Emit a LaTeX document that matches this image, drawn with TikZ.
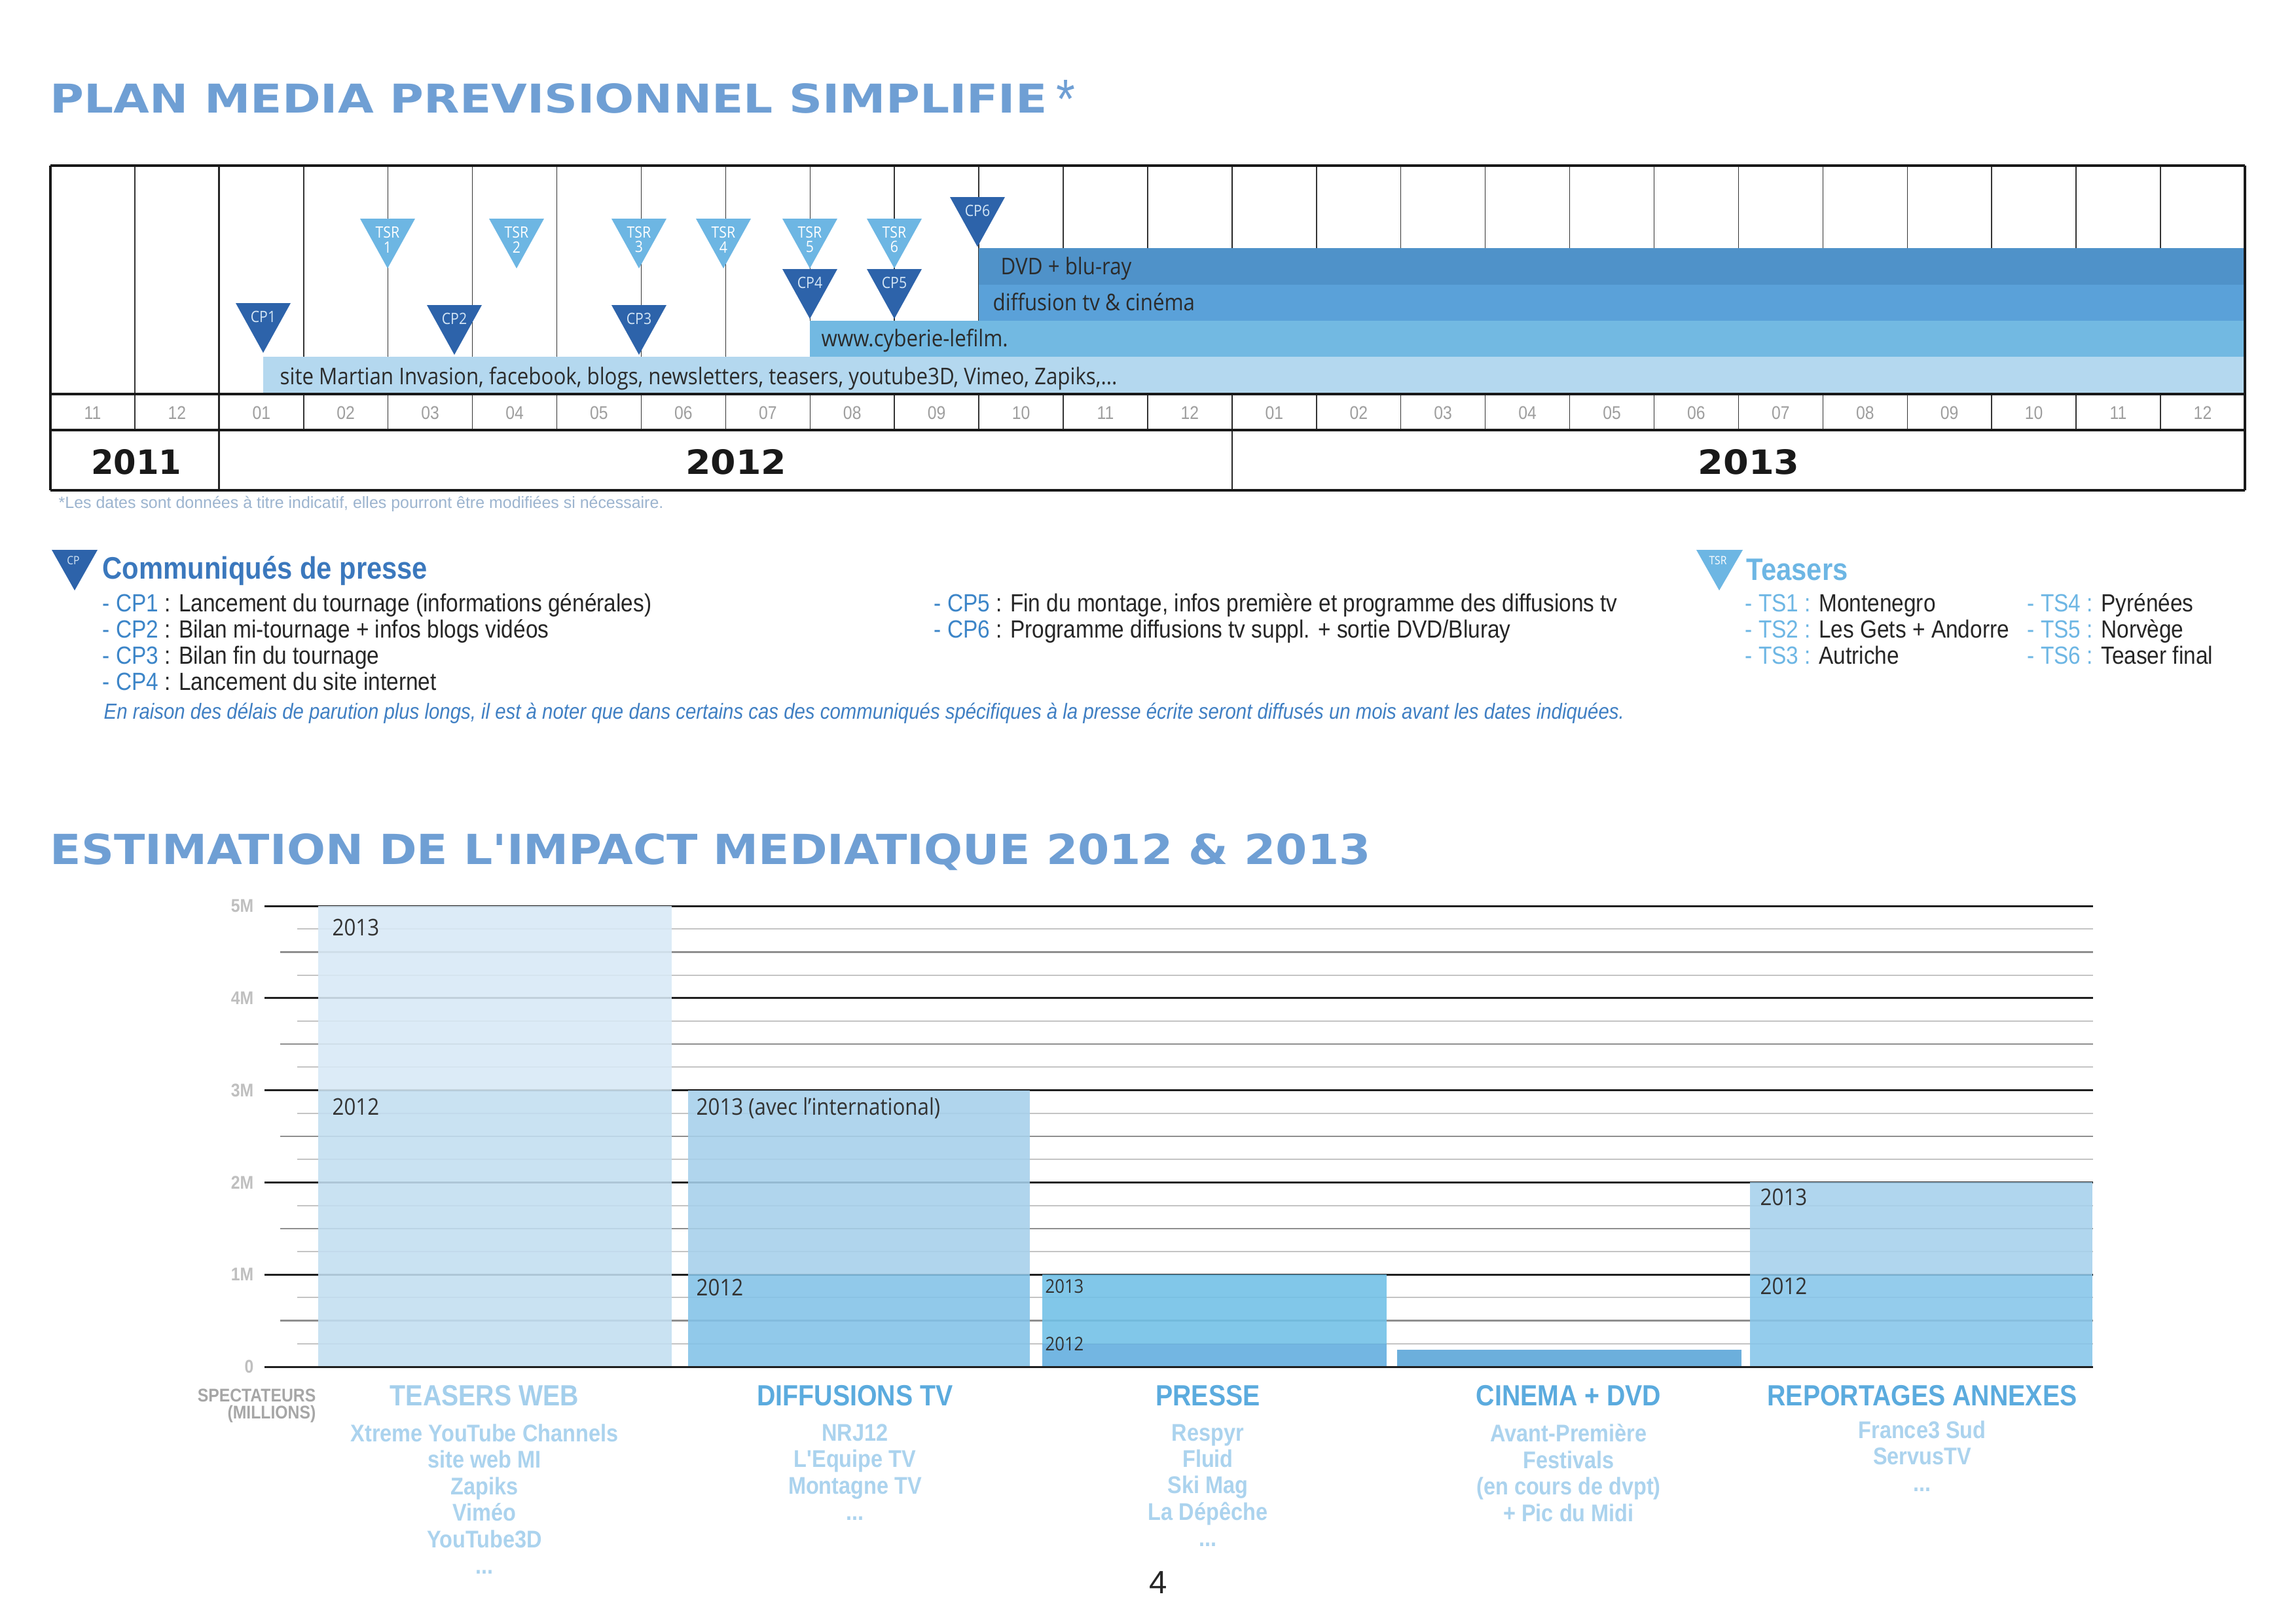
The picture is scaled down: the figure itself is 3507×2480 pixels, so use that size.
\documentclass[tikz,border=0pt]{standalone}
\usepackage{fontspec}
\usepackage{graphicx}
\setmainfont{Liberation Sans}
\newfontfamily\hv{Liberation Sans}[FakeStretch=0.88]
\newfontfamily\cnd{Open Sans}[FakeStretch=0.89]
\newfontfamily\dvs{DejaVu Sans}
\definecolor{cpDark}{HTML}{2D63AA}
\definecolor{tsLight}{HTML}{6DB6E3}
\definecolor{cDvd}{HTML}{4F92C9}
\definecolor{cDiff}{HTML}{5AA1D9}
\definecolor{cCyb}{HTML}{72B9E2}
\definecolor{cSite}{HTML}{B4D8EF}
\definecolor{titleBlue}{HTML}{6F9FD4}
\definecolor{cpHead}{HTML}{3B78BD}
\definecolor{cpBlue}{HTML}{3C85C8}
\definecolor{tsBlue}{HTML}{6DB6E4}
\definecolor{gridHalf}{HTML}{8F8F8F}
\definecolor{gridQ}{HTML}{C4C4C4}
\definecolor{bTeA}{HTML}{D8E9F6}
\definecolor{bTeB}{HTML}{C2DEF1}
\definecolor{bDiA}{HTML}{A6D0EB}
\definecolor{bDiB}{HTML}{82C2E8}
\definecolor{bPrA}{HTML}{70C0E7}
\definecolor{bPrB}{HTML}{60ACDE}
\definecolor{bCin}{HTML}{58A4D8}
\definecolor{bReA}{HTML}{A6D1EC}
\definecolor{bReB}{HTML}{86C5EA}
\definecolor{catBlue}{HTML}{5BABDE}
\definecolor{catPale}{HTML}{A4CFEC}
\definecolor{subPale}{HTML}{ABD3EE}
\definecolor{footBlue}{HTML}{9CB4CF}
\definecolor{italBlue}{HTML}{3F7FC3}
\definecolor{txtDark}{HTML}{2B2B2B}
\definecolor{cpLab}{HTML}{D3E5F5}
\newcommand\cptri[4]{%
  \fill[cpDark] ({#2-42},#3) -- ({#2+42},#3) -- (#2,{#3+76}) -- cycle;
  \node[trilab,text=cpLab] (#1) at (#2,{#3+21}) {#4};}
\newcommand\tstri[4]{%
  \fill[tsLight] ({#2-42},#3) -- ({#2+42},#3) -- (#2,{#3+76}) -- cycle;
  \node[trilab,align=center,text=white] (#1) at (#2,{#3+32}) {TSR\\#4};}
\begin{document}
\begin{tikzpicture}[x=0.1mm,y=-0.1mm,
  thinl/.style={line width=0.15mm,draw=black!80},
  midl/.style={line width=0.28mm,draw=black!85},
  heavyl/.style={line width=0.4mm,draw=black!90},
  trilab/.style={font=\cnd\fontsize{6.8}{6.5}\selectfont,inner sep=0pt},
  mlab/.style={font=\hv\fontsize{8}{9}\selectfont,text=black!38,inner sep=0pt},
  yearlab/.style={inner sep=0pt,text=black!90},
  barlab/.style={font=\cnd\fontsize{10}{11}\selectfont,text=txtDark,inner sep=0pt,anchor=base west},
  legtxt/.style={font=\hv\fontsize{10.8}{12}\selectfont,text=black!85,inner sep=0pt,anchor=base west},
  chartlab/.style={font=\cnd\fontsize{10}{11}\selectfont,text=black!80,inner sep=0pt,anchor=base west},
  ylab/.style={font=\hv\bfseries\fontsize{8}{9}\selectfont,text=black!25,inner sep=0pt,anchor=east},
  cathead/.style={font=\hv\bfseries\fontsize{12.7}{15}\selectfont,text=catBlue,inner sep=0pt},
  subitems/.style={font=\hv\bfseries\fontsize{10.5}{11.5}\selectfont,text=subPale,inner sep=0pt,align=center,anchor=north},
  majl/.style={line width=0.3mm,draw=black!88},
  halfl/.style={line width=0.25mm,draw=gridHalf},
  ql/.style={line width=0.2mm,draw=gridQ}
]
\useasboundingbox (0,0) rectangle (3507,2480);
\fill[white] (0,0) rectangle (3507,2480);

% ---------- Title 1
\node[anchor=base west,inner sep=0pt,text=titleBlue] (title1) at (76,172)
  {\resizebox{152.3mm}{4.5mm}{\dvs\bfseries PLAN MEDIA PREVISIONNEL SIMPLIFIE}};
\node[anchor=base,inner sep=0pt,text=titleBlue,font=\hv\fontsize{24}{24}\selectfont] (star) at (1628,180) {*};

% ---------- Timeline grid (top area)
\foreach \k in {0,...,26}
  \draw[thinl] ({77+\k*128.92},253) -- ({77+\k*128.92},602);
\foreach \k in {2,14}
  \draw[midl] ({77+\k*128.92},253) -- ({77+\k*128.92},602);

% bars
\fill[cSite] (402,545) rectangle (3429,602);
\fill[cCyb] (1237,490) rectangle (3429,545);
\fill[cDiff] (1495,435) rectangle (3429,490);
\fill[cDvd] (1495,379) rectangle (3429,435);
\node[barlab] (bDvd) at (1528,419) {DVD + blu-ray};
\node[barlab] (bDiff) at (1516,474) {diffusion tv \& cinéma};
\node[barlab] (bCyb) at (1254,529) {www.cyberie-lefilm.};
\node[barlab] (bSite) at (427,587) {site Martian Invasion, facebook, blogs, newsletters, teasers, youtube3D, Vimeo, Zapiks,...};

% triangles
\tstri{tsr1}{592}{334}{1}
\tstri{tsr2}{789}{334}{2}
\tstri{tsr3}{976}{334}{3}
\tstri{tsr4}{1105}{334}{4}
\tstri{tsr5}{1237}{334}{5}
\tstri{tsr6}{1366}{334}{6}
\cptri{cp1}{402}{463}{CP1}
\cptri{cp2}{694}{466}{CP2}
\cptri{cp3}{976}{466}{CP3}
\cptri{cp4}{1237}{411}{CP4}
\cptri{cp5}{1366}{411}{CP5}
\cptri{cp6}{1493}{301}{CP6}

% month row and year row
\foreach \k in {0,...,26}
  \draw[thinl] ({77+\k*128.92},602) -- ({77+\k*128.92},657);
\foreach \k in {2,14}
  \draw[midl] ({77+\k*128.92},602) -- ({77+\k*128.92},749);
\draw[heavyl] (77,253) -- (3429,253);
\draw[heavyl] (77,602) -- (3429,602);
\draw[heavyl] (77,657) -- (3429,657);
\draw[heavyl] (77,749) -- (3429,749);
\draw[heavyl] (77,253) -- (77,749);
\draw[heavyl] (3429,253) -- (3429,749);

\foreach \m [count=\i from 0] in {11,12,01,02,03,04,05,06,07,08,09,10,11,12,01,02,03,04,05,06,07,08,09,10,11,12}
  \node[mlab] (m\i) at ({77+(\i+0.5)*128.92},631) {\m};

\node[yearlab] (y2011) at (208,706) {\resizebox{13.8mm}{3.8mm}{\dvs\bfseries 2011}};
\node[yearlab] (y2012) at (1124,706) {\resizebox{15.4mm}{3.8mm}{\dvs\bfseries 2012}};
\node[yearlab] (y2013) at (2671,706) {\resizebox{15.5mm}{3.8mm}{\dvs\bfseries 2013}};

\node[anchor=base west,inner sep=0pt,text=footBlue,font=\fontsize{7.1}{8}\selectfont] (foot) at (89,776)
  {*Les dates sont données à titre indicatif, elles pourront être modifiées si nécessaire.};

% ---------- Legend: communiqués
\fill[cpDark] (79,840) -- (149,840) -- (114,902) -- cycle;
\node[trilab,text=cpLab,font=\cnd\fontsize{5}{5}\selectfont] (lgcp) at (112,856) {CP};
\node[anchor=base west,inner sep=0pt,text=cpHead,font=\hv\bfseries\fontsize{13.5}{15}\selectfont] (cphead) at (156,884) {Communiqués de presse};
\node[legtxt] (l1) at (156,934) {\textcolor{cpBlue}{- CP1} : Lancement du tournage (informations générales)};
\node[legtxt] (l2) at (156,974) {\textcolor{cpBlue}{- CP2} : Bilan mi-tournage + infos blogs vidéos};
\node[legtxt] (l3) at (156,1014) {\textcolor{cpBlue}{- CP3} : Bilan fin du tournage};
\node[legtxt] (l4) at (156,1054) {\textcolor{cpBlue}{- CP4} : Lancement du site internet};
\node[legtxt] (l5) at (1426,934) {\textcolor{cpBlue}{- CP5} : Fin du montage, infos première et programme des diffusions tv};
\node[legtxt] (l6) at (1426,974) {\textcolor{cpBlue}{- CP6} : Programme diffusions tv suppl. + sortie DVD/Bluray};
\node[anchor=base west,inner sep=0pt,text=italBlue,font=\hv\itshape\fontsize{9.5}{10}\selectfont] (ital) at (158,1098)
  {En raison des délais de parution plus longs, il est à noter que dans certains cas des communiqués spécifiques à la presse écrite seront diffusés un mois avant les dates indiquées.};

% ---------- Legend: teasers
\fill[tsLight] (2591,840) -- (2662,840) -- (2626,902) -- cycle;
\node[trilab,text=white,font=\cnd\fontsize{5}{5}\selectfont] (lgts) at (2624,856) {TSR};
\node[anchor=base west,inner sep=0pt,text=tsBlue,font=\hv\bfseries\fontsize{13.5}{15}\selectfont] (tshead) at (2667,886) {Teasers};
\node[legtxt] (t1) at (2665,934) {\textcolor{tsBlue}{- TS1 :} Montenegro};
\node[legtxt] (t2) at (2665,974) {\textcolor{tsBlue}{- TS2 :} Les Gets + Andorre};
\node[legtxt] (t3) at (2665,1014) {\textcolor{tsBlue}{- TS3 :} Autriche};
\node[legtxt] (t4) at (3096,934) {\textcolor{tsBlue}{- TS4 :} Pyrénées};
\node[legtxt] (t5) at (3096,974) {\textcolor{tsBlue}{- TS5 :} Norvège};
\node[legtxt] (t6) at (3096,1014) {\textcolor{tsBlue}{- TS6 :} Teaser final};

% ---------- Title 2
\node[anchor=base west,inner sep=0pt,text=titleBlue] (title2) at (76,1320)
  {\resizebox{201.7mm}{4.7mm}{\dvs\bfseries ESTIMATION DE L'IMPACT MEDIATIQUE 2012 \& 2013}};

% ---------- Chart grid
\foreach \v in {0,...,4} {
  \draw[ql] (454,{2088-140.8*(\v+0.25)}) -- (3197,{2088-140.8*(\v+0.25)});
  \draw[halfl] (428,{2088-140.8*(\v+0.5)}) -- (3197,{2088-140.8*(\v+0.5)});
  \draw[ql] (454,{2088-140.8*(\v+0.75)}) -- (3197,{2088-140.8*(\v+0.75)});
}
\foreach \v in {1,...,5}
  \draw[majl] (404,{2088-140.8*\v}) -- (3197,{2088-140.8*\v});

% bars
\begin{scope}[fill opacity=0.88]
\fill[bTeB] (486,2088) rectangle (1026,1665.6);
\fill[bTeA] (486,1665.6) rectangle (1026,1384);
\fill[bDiB] (1051,2088) rectangle (1573,1947.2);
\fill[bDiA] (1051,1947.2) rectangle (1573,1665.6);
\fill[bPrB] (1592,2088) rectangle (2118,2052.8);
\fill[bPrA] (1592,2052.8) rectangle (2118,1947.2);
\fill[bCin] (2134,2088) rectangle (2660,2062);
\fill[bReB] (2673,2088) rectangle (3196,1947.2);
\fill[bReA] (2673,1947.2) rectangle (3196,1806.4);
\end{scope}
\draw[majl] (404,2088) -- (3197,2088);

\node[chartlab] (te13) at (507,1429) {2013};
\node[chartlab] (te12) at (507,1703) {2012};
\node[chartlab] (di13) at (1063,1703) {2013 (avec l’international)};
\node[chartlab] (di12) at (1063,1979) {2012};
\node[chartlab,font=\cnd\fontsize{8.2}{9}\selectfont] (pr13) at (1596,1975) {2013};
\node[chartlab,font=\cnd\fontsize{8.2}{9}\selectfont] (pr12) at (1596,2063) {2012};
\node[chartlab] (re13) at (2688,1841) {2013};
\node[chartlab] (re12) at (2688,1977) {2012};

% y labels
\node[ylab] (y5) at (388,1384) {5M};
\node[ylab] (y4) at (388,1524.8) {4M};
\node[ylab] (y3) at (388,1665.6) {3M};
\node[ylab] (y2) at (388,1806.4) {2M};
\node[ylab] (y1) at (388,1947.2) {1M};
\node[ylab] (y0) at (388,2088) {0};

\node[anchor=east,inner sep=0pt,text=black!35,font=\hv\bfseries\fontsize{8}{9}\selectfont] (spec) at (483,2132) {SPECTATEURS};
\node[anchor=east,inner sep=0pt,text=black!35,font=\hv\bfseries\fontsize{8}{9}\selectfont] (mill) at (483,2160) {(MILLIONS)};

% categories
\node[cathead,text=catPale] (c1) at (740,2132) {TEASERS WEB};
\node[cathead] (c2) at (1306,2132) {DIFFUSIONS TV};
\node[cathead] (c3) at (1845,2132) {PRESSE};
\node[cathead] (c4) at (2396,2132) {CINEMA + DVD};
\node[cathead] (c5) at (2936,2132) {REPORTAGES ANNEXES};

\node[subitems] (s1) at (740,2175) {Xtreme YouTube Channels\\site web MI\\Zapiks\\Viméo\\YouTube3D\\...};
\node[subitems] (s2) at (1306,2175) {NRJ12\\L'Equipe TV\\Montagne TV\\...};
\node[subitems] (s3) at (1845,2175) {Respyr\\Fluid\\Ski Mag\\La Dépêche\\...};
\node[subitems] (s4) at (2396,2175) {Avant-Première\\Festivals\\(en cours de dvpt)\\+ Pic du Midi};
\node[subitems] (s5) at (2936,2170) {France3 Sud\\ServusTV\\...};

\node[anchor=base,inner sep=0pt,font=\fontsize{14}{14}\selectfont,text=black!85] (page) at (1769,2434) {4};
\end{tikzpicture}
\end{document}
